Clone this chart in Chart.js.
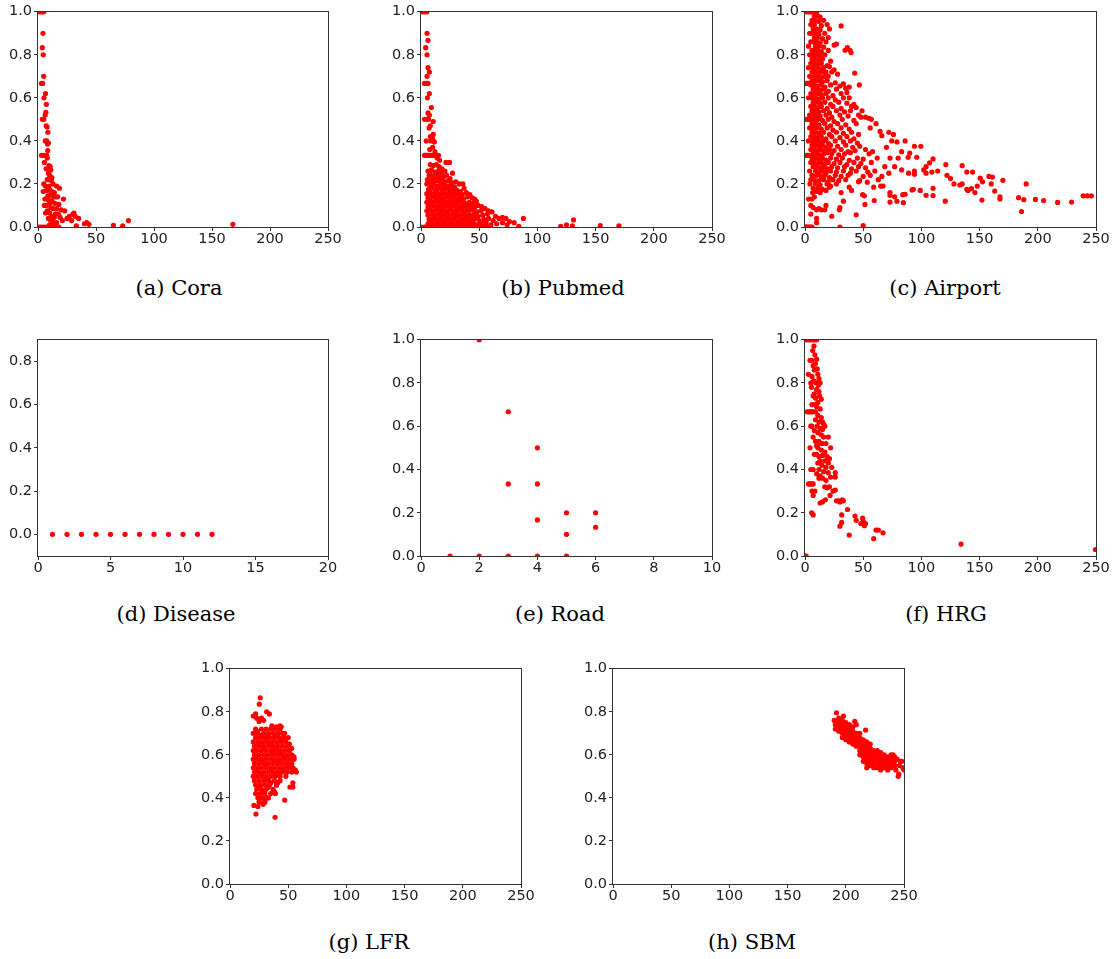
<!DOCTYPE html>
<html>
<head>
<meta charset="utf-8">
<script src="https://cdn.jsdelivr.net/npm/chart.js"></script>
<style>
  body { margin: 0; background: #fff; width: 1112px; height: 959px; position: relative; overflow: hidden; }
  canvas { position: absolute; }
  .cap { position: absolute; font-family: "DejaVu Serif", serif; font-size: 21px; line-height: 21px; color: #000; white-space: nowrap; transform: translateX(-50%); }
</style>
</head>
<body>
<script>
// tick values
const unitTicks = [0, 0.2, 0.4, 0.6, 0.8, 1.0];
const diseaseYTicks = [0, 0.2, 0.4, 0.6, 0.8];
const degreeTicks = [0, 50, 100, 150, 200, 250];
const diseaseXTicks = [0, 5, 10, 15, 20];
const roadXTicks = [0, 2, 4, 6, 8, 10];

// points, [x, y]
const cora = [
  [1,1],[2,1],[3,1],[4,1],[5,1],
  [4.3,0.9],[3.7,0.833],[4.5,0.8],[4.9,0.7],[3,0.667],[4,0.667],[6.5,0.62],[5.2,0.6],[7.2,0.57],
  [6.8,0.533],[6.2,0.52],[3.8,0.5],[5,0.5],[7,0.47],[7.8,0.465],[8.5,0.44],[6.3,0.4],[7.5,0.4],
  [8.2,0.385],[9,0.39],[8.4,0.355],[3,0.333],[4.5,0.333],[6,0.333],[7.5,0.333],[8,0.32],[5.5,0.3],
  [9.5,0.285],[10.5,0.28],[7,0.27],[11,0.265],[9,0.25],[10,0.24],[12,0.23],[8,0.22],[11.5,0.215],
  [13,0.2],[5,0.2],[6.5,0.19],[9.5,0.19],[16,0.19],[18.5,0.18],[7.5,0.17],[10.5,0.17],[12,0.165],
  [14,0.16],[4.5,0.165],[11,0.15],[8.5,0.145],[13,0.14],[15.5,0.14],[17,0.14],[6,0.13],[9,0.125],
  [12,0.12],[22,0.13],[10,0.11],[14.5,0.11],[18,0.105],[7,0.1],[5.5,0.1],[11,0.09],[13,0.085],
  [16,0.085],[20,0.08],[23,0.075],[8,0.075],[10,0.065],[15,0.06],[17.5,0.06],[6.5,0.065],[12,0.05],
  [14,0.045],[19,0.045],[25,0.04],[27,0.05],[9,0.04],[11,0.03],[13,0.025],[16,0.02],[21,0.03],
  [30,0.06],[31,0.065],[32,0.05],[35,0.04],[29,0.03],[33,0.005],[10,0.01],[14,0.008],[40,0.015],
  [42,0.02],[44,0.012],[65,0.008],[73,0.005],[78,0.03],[168,0.012],
  [0,0],[2,0],[4,0],[6,0],[8,0],[10,0],[12,0],[14,0],[16,0],[18,0]
];

const pubmed = [
  [1,1],[2,1],[3,1],[4,1],[5,1],
  [5.2,0.9],[6,0.867],[4,0.833],[5.2,0.8],[6,0.74],[7.2,0.72],[5.2,0.7],[3,0.667],[4.5,0.667],[6,0.667],
  [7.2,0.62],[5.5,0.6],[8.9,0.555],[6,0.53],[7.2,0.52],[3,0.5],[5,0.5],[6.5,0.5],[10.5,0.49],[8,0.47],
  [7,0.46],[8,0.42],[10.5,0.43],[10,0.41],[4.5,0.4],[8.5,0.4],[11.5,0.395],[7.5,0.36],[10,0.37],[12,0.35],
  [3,0.333],[4,0.333],[5,0.333],[6,0.333],[7,0.333],[8,0.333],[9,0.333],[10,0.333],[11,0.333],[12,0.333],
  [13,0.333],[14,0.333],[15,0.333],[21.5,0.3],[24.5,0.3],[16,0.31],[14,0.32],
  [8,0.29],[10.5,0.285],[13,0.29],[15.5,0.28],[18,0.27],
  [6,0.26],[9,0.265],[12,0.255],[15,0.26],[18,0.25],[20.5,0.26],[27,0.25],
  [7,0.24],[10,0.235],[13,0.245],[16,0.24],[19,0.23],[22,0.24],[25,0.225],
  [5.5,0.22],[8.5,0.215],[11.5,0.22],[14.5,0.215],[17.5,0.22],[20.5,0.21],[23.5,0.215],[27,0.205],[30,0.21],
  [5,0.2],[8,0.195],[11,0.2],[14,0.19],[17,0.2],[20,0.195],[23,0.19],[26,0.2],[29,0.185],[33,0.2],[36,0.2],
  [6.5,0.175],[9.5,0.18],[12.5,0.175],[15.5,0.18],[18.5,0.17],[21.5,0.18],[24.5,0.17],[27.5,0.175],[31,0.17],[34,0.165],[37,0.18],
  [5,0.155],[8,0.16],[11,0.155],[14,0.16],[17,0.15],[20,0.16],[23,0.155],[26,0.16],[29,0.15],[32,0.155],[35.5,0.15],[39,0.16],[42,0.15],
  [6,0.135],[9,0.14],[12,0.135],[15,0.14],[18,0.13],[21,0.14],[24,0.135],[27,0.14],[30,0.13],[33,0.135],[36.5,0.13],[40,0.14],[44,0.135],[46,0.13],
  [5,0.115],[8,0.12],[11,0.115],[14,0.12],[17,0.11],[20,0.12],[23,0.115],[26,0.12],[29,0.11],[32,0.115],[35,0.12],[38,0.11],[41.5,0.115],[45,0.11],[47.5,0.12],
  [6,0.095],[9,0.1],[12,0.095],[15,0.1],[18,0.09],[21,0.1],[24,0.095],[27,0.1],[30,0.09],[33,0.095],[36,0.1],[39,0.09],[42.5,0.095],[46,0.09],[49,0.1],[52,0.095],
  [5,0.075],[8,0.08],[11,0.075],[14,0.08],[17,0.07],[20,0.08],[23,0.075],[26,0.08],[29,0.07],[32,0.075],[35,0.08],[38,0.07],[41,0.075],[44.5,0.08],[48,0.07],[51.5,0.075],[55,0.085],[58,0.075],
  [6,0.055],[9,0.06],[12,0.055],[15,0.06],[18,0.05],[21,0.06],[24,0.055],[27,0.06],[30,0.05],[33,0.055],[36,0.06],[39,0.05],[42,0.055],[45.5,0.06],[49,0.05],[53,0.055],[57,0.06],[61,0.07],[64,0.05],
  [7,0.035],[10,0.04],[13,0.035],[16,0.04],[19,0.03],[22,0.04],[25,0.035],[28,0.04],[31,0.03],[34,0.035],[37,0.04],[40,0.03],[43,0.035],[46.5,0.04],[50,0.03],[54,0.035],[58,0.04],[62,0.03],[67,0.04],[70,0.045],[73,0.04],[88,0.04],
  [6,0.015],[9,0.02],[12,0.015],[15,0.02],[18,0.01],[21,0.02],[24,0.015],[27,0.02],[30,0.01],[33,0.015],[36,0.02],[39,0.01],[42,0.015],[45,0.02],[48,0.01],[52,0.015],[56,0.02],[60,0.01],[65,0.015],[70,0.02],[74,0.01],[76,0.025],[80,0.02],[84,0.003],
  [7.5,0.25],[10.5,0.205],[13.5,0.165],[16.5,0.125],[19.5,0.185],[22.5,0.145],[25.5,0.105],[28.5,0.165],[31.5,0.125],[34.5,0.085],
  [10.5,0.145],[16.5,0.085],[22.5,0.045],[28.5,0.065],[37.5,0.065],[40.5,0.105],[43.5,0.045],[7.5,0.105],[13.5,0.225],[25.5,0.185],
  [0,0],[3,0],[6,0],[9,0],[12,0],[15,0],[18,0],[21,0],[24,0],[27,0],[30,0],[33,0],[36,0],[39,0],[42,0],[45,0],[48,0],[51,0],[54,0],[57,0],[60,0],
  [120,0.003],[125,0.01],[130,0.005],[131,0.033],[154,0.007],[170,0.005]
];

const airport = [
  [1,1],[2,1],[3,1],[4,1],[5,1],[6,1],[7,1],[8,1],[9,1],[10,1],
  [8,0.98],[11,0.98],[13,0.975],
  [6,0.96],[9,0.96],[12,0.955],[16,0.96],
  [5,0.94],[8,0.94],[14,0.935],[19,0.94],[31,0.934],
  [7,0.92],[10,0.92],[13,0.915],[21,0.92],
  [4,0.9],[6,0.9],[9,0.9],[12,0.895],[17,0.9],
  [8,0.88],[11,0.88],[15,0.875],[20,0.88],
  [5,0.86],[7,0.86],[10,0.86],[13,0.855],[18,0.86],
  [3,0.84],[9,0.84],[12,0.84],[16,0.835],[25,0.845],[27,0.85],
  [6,0.82],[8,0.82],[11,0.82],[14,0.815],[20,0.82],[34.4,0.821],[36.4,0.833],[38.7,0.821],[39.6,0.81],
  [4,0.8],[7,0.8],[10,0.8],[13,0.795],[17,0.8],
  [6,0.78],[9,0.78],[12,0.775],[15,0.78],[22,0.77],
  [5,0.76],[8,0.76],[11,0.755],[14,0.76],[19,0.75],
  [3,0.74],[7,0.74],[10,0.74],[13,0.735],[16,0.74],[21,0.745],[25,0.73],
  [6,0.72],[9,0.72],[12,0.715],[15,0.72],[18,0.72],[23,0.72],[28,0.71],[42.7,0.715],
  [4,0.7],[8,0.7],[11,0.7],[14,0.695],[17,0.7],[20,0.7],
  [6,0.68],[9,0.68],[12,0.68],[15,0.675],[19,0.68],[26,0.67],
  [1,0.667],[2,0.667],[3,0.667],[4,0.667],[5,0.667],[6,0.667],
  [5,0.66],[8,0.66],[11,0.655],[14,0.66],[17,0.65],[22,0.66],[30,0.655],[33,0.665],[46.7,0.66],
  [7,0.64],[10,0.64],[13,0.635],[16,0.64],[20,0.63],[27,0.64],[35,0.645],[38,0.65],
  [5,0.62],[8,0.62],[11,0.62],[14,0.615],[18,0.62],[24,0.61],[31,0.62],[36,0.625],
  [3,0.6],[6,0.6],[9,0.6],[12,0.595],[15,0.6],[20,0.6],[26,0.59],[33,0.6],[38,0.6],
  [7,0.58],[10,0.58],[13,0.575],[17,0.58],[22,0.57],[29,0.58],[36,0.575],[42,0.57],
  [5,0.56],[8,0.56],[11,0.555],[14,0.56],[19,0.55],[24,0.56],[31,0.55],[40,0.56],[44,0.555],
  [6,0.54],[9,0.54],[12,0.535],[16,0.54],[21,0.53],[27,0.54],[34,0.535],[39,0.54],[49,0.54],
  [4,0.52],[7,0.52],[10,0.52],[13,0.515],[18,0.52],[23,0.51],[30,0.52],[37,0.515],[46,0.52],
  [1,0.5],[2,0.5],[3,0.5],[4,0.5],[5,0.5],
  [8,0.5],[11,0.5],[15,0.495],[20,0.5],[25,0.49],[32,0.5],[42,0.495],[48,0.51],[52,0.51],[55,0.505],[57,0.5],
  [6,0.48],[9,0.48],[12,0.475],[17,0.48],[22,0.47],[28,0.48],[35,0.475],[44,0.48],[61,0.48],
  [4,0.46],[7,0.46],[10,0.46],[14,0.455],[19,0.46],[24,0.45],[31,0.46],[38,0.455],[56,0.46],
  [6,0.44],[9,0.44],[12,0.435],[16,0.44],[21,0.43],[27,0.44],[33,0.435],[40,0.44],[46,0.43],[64.5,0.444],[72,0.44],
  [5,0.42],[8,0.42],[11,0.415],[14,0.42],[18,0.41],[23,0.42],[30,0.415],[36,0.42],[42,0.41],[66,0.424],[76,0.43],
  [3,0.4],[7,0.4],[10,0.4],[13,0.395],[16,0.4],[20,0.39],[26,0.4],[33,0.395],[39,0.4],[45,0.39],[74.5,0.4],[79,0.395],[86,0.4],
  [6,0.38],[9,0.38],[12,0.375],[15,0.38],[18,0.37],[22,0.38],[28,0.375],[35,0.38],[41,0.37],[47,0.375],[70,0.37],[94,0.375],[99.5,0.375],
  [5,0.36],[8,0.36],[11,0.355],[14,0.36],[17,0.35],[21,0.36],[25,0.355],[31,0.36],[37,0.35],[43,0.355],[52,0.36],[58,0.35],
  [7,0.34],[10,0.34],[13,0.335],[16,0.34],[19,0.345],[23,0.34],[29,0.335],[34,0.34],[39,0.345],[55,0.34],[83,0.35],[90,0.343],
  [1,0.333],[2,0.333],[3,0.333],[4,0.333],[5,0.333],[6,0.333],[7,0.333],
  [6,0.32],[9,0.32],[12,0.315],[15,0.32],[18,0.31],[22,0.32],[27,0.315],[32,0.32],[38,0.31],[45,0.32],[50,0.315],[62,0.32],[73,0.32],[80,0.32],[88.6,0.324],[96,0.324],[110,0.316],
  [5,0.3],[8,0.3],[11,0.295],[14,0.3],[17,0.29],[20,0.3],[25,0.295],[30,0.3],[36,0.29],[42,0.3],[48,0.295],[57,0.3],[107,0.298],
  [7,0.28],[10,0.28],[13,0.275],[16,0.28],[19,0.27],[23,0.28],[28,0.275],[34,0.28],[40,0.27],[46,0.28],[52,0.275],[68.5,0.28],[77,0.28],[104,0.28],[121,0.29],[135,0.285],
  [4,0.26],[9,0.26],[12,0.255],[15,0.26],[18,0.25],[22,0.26],[27,0.255],[33,0.26],[39,0.25],[44,0.26],[54,0.255],[60,0.26],[83,0.265],[89,0.25],[94,0.26],[102,0.265],[109,0.255],[114,0.26],[139,0.255],[144,0.255],
  [6,0.24],[10,0.24],[14,0.235],[17,0.24],[21,0.23],[26,0.24],[31,0.235],[37,0.24],[50,0.235],[56,0.24],[66,0.235],[94,0.245],[104,0.25],[122,0.24],[158,0.235],[161,0.232],
  [5,0.22],[8,0.22],[12,0.215],[16,0.22],[20,0.21],[24,0.22],[29,0.215],[35,0.22],[47,0.215],[63,0.22],[72,0.25],[125,0.225],[150.5,0.227],[170,0.217],
  [4.3,0.2],[9,0.2],[13,0.195],[19,0.2],[22,0.19],[27,0.2],[46,0.21],[53.5,0.208],[128,0.2],[133,0.195],[152.5,0.21],[160,0.2],[190,0.2],
  [7,0.18],[11,0.18],[15,0.175],[21,0.185],[38,0.185],[59,0.185],[65,0.19],[67,0.19],[73,0.16],[93,0.175],[110,0.18],[135,0.2],[140,0.17],[143,0.178],[148,0.19],
  [6.6,0.16],[10,0.165],[13,0.16],[18,0.17],[31,0.16],[40,0.17],[92,0.172],[99,0.17],[146,0.16],[163,0.167],
  [8,0.14],[49.5,0.15],[51,0.145],[73,0.147],[77,0.14],[84,0.15],[86,0.152],[104,0.147],[110,0.146],[139,0.175],[167.5,0.14],[183.5,0.136],
  [3,0.13],[6,0.13],[33,0.12],[59.5,0.123],[73,0.116],[79,0.12],[84.5,0.113],[120.5,0.12],[152,0.125],[167.5,0.13],[188,0.127],[198,0.128],[205,0.123],[217,0.114],[229,0.116],
  [5,0.1],[7,0.09],[18,0.1],[51.5,0.105],
  [10,0.08],[12,0.085],[14,0.08],[17,0.08],[29.5,0.08],[30,0.09],
  [5,0.06],[44,0.057],[23,0.05],[186,0.072],
  [10,0.04],[10,0.02],
  [0,0],[1,0],[2,0],[3,0],[4,0],[5,0],[6,0],[30,0],[50,0.006],
  [239,0.145],[242.5,0.145],[246,0.145]
];

const disease = [
  [1,0],[2,0],[3,0],[4,0],[5,0],[6,0],[7,0],[8,0],[9,0],[10,0],[11,0],[12,0]
];

const road = [
  [1,0],[2,0],[2,1],[3,0],[3,0.333],[3,0.667],[4,0],[4,0.167],[4,0.333],[4,0.5],
  [5,0],[5,0.1],[5,0.2],[6,0.133],[6,0.2]
];

const hrg = [
  [1,1],[2,1],[3,1],[4,1],[5,1],[6,1],[7,1],[8,1],[9,1],[10,1],
  [7.7,0.97],[6.6,0.95],[8.5,0.93],[4.3,0.905],[5.7,0.905],[10,0.91],[9,0.89],[7,0.88],[2.9,0.84],[8,0.86],
  [10.5,0.865],[11,0.84],[12,0.82],[13,0.8],[6,0.83],[5,0.8],[7.5,0.81],[9.5,0.8],[11.5,0.79],[5.5,0.78],
  [10,0.77],[12,0.76],[8,0.75],[7,0.74],[9,0.73],[12.5,0.74],[14,0.725],[11,0.71],[6,0.7],[8.5,0.7],
  [10,0.69],[13,0.68],
  [2,0.667],[3,0.667],[4,0.667],[5,0.667],[6,0.667],[7,0.667],[9,0.667],
  [11,0.65],[14,0.64],[12,0.62],[15,0.62],[16,0.61],[9,0.63],[10.5,0.6],[13,0.59],[15,0.585],[17,0.6],
  [5,0.6],[6,0.6],[8,0.58],[11,0.57],[14,0.56],[16,0.55],[20,0.55],[7,0.55],[9,0.53],[12,0.53],
  [13.5,0.52],[15,0.52],[18,0.52],[10,0.51],[4.3,0.5],[22,0.5],[11,0.5],[14,0.49],[17,0.48],[8,0.47],
  [10,0.47],[12,0.46],[15,0.465],[19,0.46],[21,0.45],[13,0.44],[17,0.44],[20,0.43],[23,0.41],[11,0.43],
  [14.5,0.42],[18,0.41],[12,0.4],[5,0.4],[7,0.4],[16,0.39],[20,0.385],[26,0.385],[10,0.38],[13,0.37],
  [15,0.36],[22,0.365],[26,0.365],[12,0.36],[18,0.35],
  [3,0.333],[4,0.333],[5,0.333],[6,0.333],[7,0.333],
  [17,0.32],[19,0.315],[21,0.32],[24,0.3],[26,0.305],[8.5,0.3],[6,0.3],[21.5,0.28],[7,0.28],[17.5,0.26],
  [15,0.25],[13,0.245],[27,0.255],[29,0.255],[30,0.25],[32,0.26],[33,0.255],[36.5,0.215],[31.5,0.19],
  [31.5,0.155],[30,0.138],[38,0.097],[43,0.185],[44,0.165],[48,0.15],[49.5,0.175],[50,0.16],[51,0.14],
  [52,0.15],[59,0.08],[61,0.12],[63,0.12],[67,0.107],[5.7,0.2],[7,0.19],[0,0],[1,0],[134,0.055],[249.5,0.03]
];

const lfr = [
  [22,0.72],[27,0.72],[31,0.72],[35,0.72],[39,0.72],[43,0.72],
  [20,0.7],[24,0.7],[29,0.7],[33,0.7],[37,0.7],[41,0.7],[45,0.7],
  [22,0.68],[26,0.68],[30,0.68],[34,0.68],[38,0.68],[42,0.68],[46,0.68],
  [20,0.66],[24,0.66],[28,0.66],[32,0.66],[36,0.66],[40,0.66],[44,0.66],[48,0.66],
  [21,0.64],[25,0.64],[29,0.64],[33,0.64],[37,0.64],[41,0.64],[45,0.64],[49,0.64],
  [20,0.62],[23,0.62],[27,0.62],[31,0.62],[35,0.62],[39,0.62],[43,0.62],[47,0.62],[51,0.62],
  [21,0.6],[25,0.6],[29,0.6],[33,0.6],[37,0.6],[41,0.6],[45,0.6],[49,0.6],[53,0.6],
  [20,0.58],[23,0.58],[27,0.58],[31,0.58],[35,0.58],[39,0.58],[43,0.58],[47,0.58],[51,0.58],[55,0.58],
  [21,0.56],[25,0.56],[29,0.56],[33,0.56],[37,0.56],[41,0.56],[45,0.56],[49,0.56],[53,0.56],
  [20,0.54],[23,0.54],[27,0.54],[31,0.54],[35,0.54],[39,0.54],[43,0.54],[47,0.54],[51,0.54],[54,0.54],
  [21,0.52],[25,0.52],[29,0.52],[33,0.52],[37,0.52],[41,0.52],[45,0.52],[49,0.52],[53,0.52],[57,0.52],
  [20,0.5],[23,0.5],[27,0.5],[31,0.5],[35,0.5],[39,0.5],[43,0.5],[48,0.5],
  [21,0.48],[25,0.48],[29,0.48],[33,0.48],[38,0.48],[43,0.48],
  [22,0.46],[26,0.46],[30,0.46],[34,0.46],[40,0.46],
  [23,0.44],[27,0.44],[31,0.44],[37,0.44],
  [22,0.42],[26,0.42],[30,0.42],[35,0.42],
  [24,0.4],[28,0.4],[33,0.4],
  [25,0.38],[29,0.38],
  [23,0.71],[27,0.69],[31,0.67],[35,0.65],[39,0.63],[43,0.61],[47,0.59],[23,0.59],[27,0.57],[31,0.55],
  [35,0.53],[39,0.51],[23,0.53],[27,0.51],[31,0.49],[35,0.47],[45,0.53],[49,0.55],[41,0.57],[37,0.61],
  [33,0.69],[29,0.63],[25,0.65],[45,0.67],[41,0.69],[25,0.45],[29,0.43],[33,0.45],
  [26,0.865],[25.2,0.835],[20,0.78],[22,0.79],[23,0.77],[31.5,0.8],[33.8,0.79],[27,0.77],[29,0.76],[25,0.755],
  [36,0.735],[40,0.73],[43,0.735],[44,0.73],[47,0.7],[50,0.68],[51,0.65],[53,0.63],[55,0.59],[56,0.53],
  [54,0.47],[54,0.45],[51.5,0.45],[47,0.39],[40,0.46],[41,0.47],[38,0.43],[39,0.42],[38.7,0.31],[20.6,0.365],
  [22.3,0.325],[24,0.36],[26,0.4],[28.5,0.37],[30,0.38],[31.5,0.4]
];

const sbm = [
  [191,0.76],[191,0.74],[191,0.72],
  [194,0.77],[194,0.75],[194,0.73],[194,0.71],
  [197,0.76],[197,0.74],[197,0.72],[197,0.7],[197,0.68],
  [200,0.75],[200,0.73],[200,0.71],[200,0.69],[200,0.67],
  [203,0.74],[203,0.72],[203,0.7],[203,0.68],[203,0.66],
  [206,0.73],[206,0.71],[206,0.69],[206,0.67],[206,0.65],
  [209,0.74],[209,0.7],[209,0.68],[209,0.66],[209,0.64],
  [212,0.7],[212,0.68],[212,0.66],[212,0.64],[212,0.62],[212,0.6],
  [215,0.67],[215,0.65],[215,0.63],[215,0.61],[215,0.59],[215,0.57],
  [218,0.66],[218,0.64],[218,0.62],[218,0.6],[218,0.58],[218,0.56],[218,0.54],
  [221,0.65],[221,0.63],[221,0.61],[221,0.59],[221,0.57],[221,0.55],
  [224,0.62],[224,0.6],[224,0.58],[224,0.56],[224,0.54],
  [227,0.62],[227,0.6],[227,0.58],[227,0.56],[227,0.54],
  [230,0.61],[230,0.59],[230,0.57],[230,0.55],[230,0.53],
  [233,0.6],[233,0.58],[233,0.56],[233,0.54],
  [236,0.59],[236,0.57],[236,0.55],[236,0.53],
  [239,0.6],[239,0.58],[239,0.56],[239,0.54],
  [242,0.59],[242,0.57],[242,0.55],
  [192,0.795],[190,0.76],[198,0.78],[207.7,0.755],[217,0.715],[245,0.5],[245.5,0.51],[247,0.57],
  [248,0.57],[250,0.53],[249,0.54],[240.6,0.6],[244,0.58],[243,0.53],[246,0.55]
];

// layout of each subplot (plot-area box in page pixels)
const panels = [
  { caption: '(a) Cora',    pts: cora,    left: 38,  top: 11,  w: 290, h: 216, xr: [0, 250], xt: degreeTicks,  yr: [0, 1],      yt: unitTicks,     cx: 179, base: 295 },
  { caption: '(b) Pubmed',  pts: pubmed,  left: 421, top: 11,  w: 291, h: 216, xr: [0, 250], xt: degreeTicks,  yr: [0, 1],      yt: unitTicks,     cx: 563, base: 295 },
  { caption: '(c) Airport', pts: airport, left: 805, top: 11,  w: 291, h: 216, xr: [0, 250], xt: degreeTicks,  yr: [0, 1],      yt: unitTicks,     cx: 945, base: 295 },
  { caption: '(d) Disease', pts: disease, left: 38,  top: 339, w: 290, h: 217, xr: [0, 20],  xt: diseaseXTicks, yr: [-0.1, 0.9], yt: diseaseYTicks, cx: 176, base: 621 },
  { caption: '(e) Road',    pts: road,    left: 421, top: 339, w: 291, h: 217, xr: [0, 10],  xt: roadXTicks,   yr: [0, 1],      yt: unitTicks,     cx: 560, base: 621 },
  { caption: '(f) HRG',     pts: hrg,     left: 805, top: 339, w: 291, h: 217, xr: [0, 250], xt: degreeTicks,  yr: [0, 1],      yt: unitTicks,     cx: 946, base: 621 },
  { caption: '(g) LFR',     pts: lfr,     left: 230, top: 668, w: 291, h: 216, xr: [0, 250], xt: degreeTicks,  yr: [0, 1],      yt: unitTicks,     cx: 369, base: 949 },
  { caption: '(h) SBM',     pts: sbm,     left: 613, top: 668, w: 291, h: 216, xr: [0, 250], xt: degreeTicks,  yr: [0, 1],      yt: unitTicks,     cx: 752, base: 949 }
];

const YW = 36, TP = 10, RP = 14, XH = 24;
const axisColor = '#333';
const tickFont = { family: '"DejaVu Sans", sans-serif', size: 14.5 };

// full frame round the plot area, drawn over the points like matplotlib spines
const framePlugin = {
  id: 'frame',
  afterDatasetsDraw(chart) {
    const a = chart.chartArea, ctx = chart.ctx;
    ctx.save();
    ctx.strokeStyle = axisColor;
    ctx.lineWidth = 1;
    ctx.strokeRect(Math.round(a.left) - 0.5, Math.round(a.top) - 0.5, Math.round(a.right - a.left) + 1, Math.round(a.bottom - a.top) + 1);
    ctx.restore();
  }
};

panels.forEach(p => {
  const c = document.createElement('canvas');
  c.width = YW + p.w + RP;
  c.height = TP + p.h + XH;
  c.style.left = (p.left - YW) + 'px';
  c.style.top = (p.top - TP) + 'px';
  document.body.appendChild(c);

  new Chart(c, {
    type: 'scatter',
    data: {
      datasets: [{
        data: p.pts.map(([x, y]) => ({ x, y })),
        pointRadius: 2.6,
        pointBackgroundColor: '#ff0000',
        pointBorderWidth: 0,
        clip: 0
      }]
    },
    options: {
      responsive: false,
      animation: false,
      devicePixelRatio: 1,
      events: [],
      layout: { padding: { top: TP, right: RP, left: 0, bottom: 0 } },
      plugins: { legend: { display: false }, tooltip: { enabled: false } },
      scales: {
        x: {
          type: 'linear', min: p.xr[0], max: p.xr[1],
          afterBuildTicks: s => { s.ticks = p.xt.map(v => ({ value: v })); },
          afterFit: s => { s.height = XH; },
          grid: { drawOnChartArea: false, drawTicks: true, tickLength: 4, color: axisColor },
          border: { display: false },
          ticks: { font: tickFont, color: '#222', padding: 0, maxRotation: 0, autoSkip: false, callback: v => String(v) }
        },
        y: {
          type: 'linear', min: p.yr[0], max: p.yr[1],
          afterBuildTicks: s => { s.ticks = p.yt.map(v => ({ value: v })); },
          afterFit: s => { s.width = YW; },
          grid: { drawOnChartArea: false, drawTicks: true, tickLength: 4, color: axisColor },
          border: { display: false },
          ticks: { font: tickFont, color: '#222', padding: 2, autoSkip: false, callback: v => Number(v).toFixed(1) }
        }
      }
    },
    plugins: [framePlugin]
  });

  const cap = document.createElement('div');
  cap.className = 'cap';
  cap.textContent = p.caption;
  cap.style.left = p.cx + 'px';
  cap.style.top = (p.base - 17) + 'px';
  document.body.appendChild(cap);
});
</script>
</body>
</html>
